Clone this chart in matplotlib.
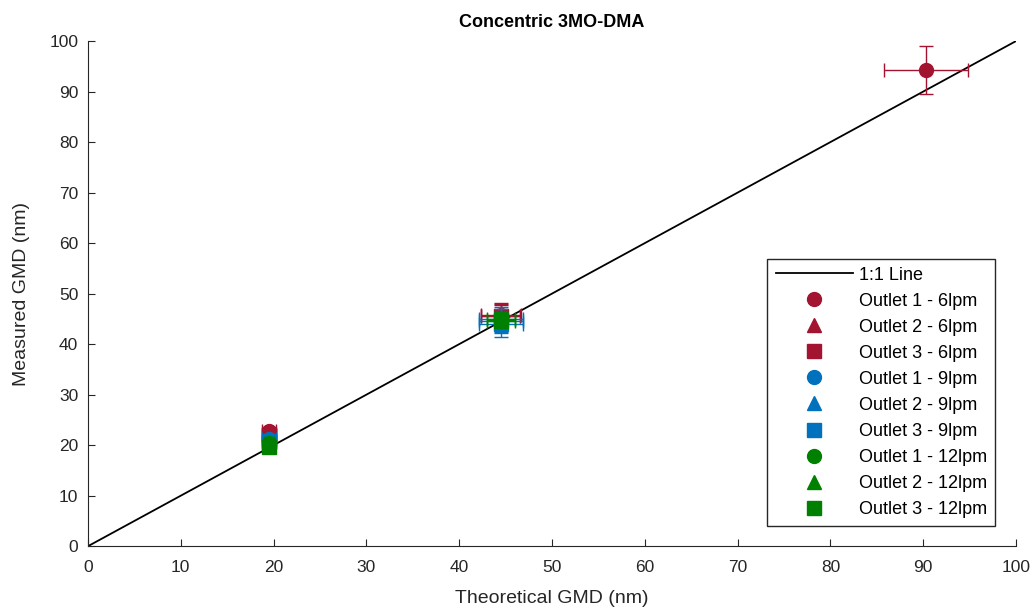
import numpy as np
import matplotlib.pyplot as plt
plt.rcParams["font.family"] = ["Liberation Sans", "DejaVu Sans"]
plt.rcParams["font.size"] = 12

# Series data (theoretical GMD, measured GMD, errors)
labels = ['Outlet 1 - 6lpm', 'Outlet 2 - 6lpm', 'Outlet 3 - 6lpm',
          'Outlet 1 - 9lpm', 'Outlet 2 - 9lpm', 'Outlet 3 - 9lpm',
          'Outlet 1 - 12lpm', 'Outlet 2 - 12lpm', 'Outlet 3 - 12lpm']
theo = [[19.5, 44.5, 90.3], [19.5, 44.5], [19.5, 44.5],
        [19.5, 44.5], [19.5, 44.5], [19.5, 44.5],
        [19.5, 44.5], [19.5, 44.5], [19.5, 44.5]]
meas = [[22.8, 45.8, 94.3], [22.3, 45.6], [22.0, 45.5],
        [21.3, 44.9], [21.0, 44.6], [20.6, 43.9],
        [20.4, 44.9], [20.0, 44.6], [19.6, 44.8]]
xerr = [[0.8, 2.2, 4.5], [0.8, 2.1], [0.8, 2.1],
        [0.8, 2.4], [0.8, 2.4], [0.8, 2.4],
        [0.5, 1.5], [0.5, 1.5], [0.5, 1.5]]
yerr = [[0.8, 2.4, 4.7], [0.8, 2.3], [0.8, 2.3],
        [0.8, 2.4], [0.8, 2.4], [0.8, 2.4],
        [0.5, 1.5], [0.5, 1.5], [0.5, 1.5]]

colors = ['#A2142F'] * 3 + ['#0072BD'] * 3 + ['#008000'] * 3
markers = ['o', '^', 's'] * 3
sizes = [10, 10, 9.5] * 3

fig = plt.figure(figsize=(10.34, 6.13), dpi=100)
ax = fig.add_axes([0.0851, 0.109, 0.8975, 0.824])

ax.plot([0, 100], [0, 100], color='black', lw=1.3, label='1:1 Line')
for i in range(len(labels)):
    ax.errorbar(theo[i], meas[i], xerr=xerr[i], yerr=yerr[i], fmt='none',
                ecolor=colors[i], capsize=5, elinewidth=1, capthick=1)
    ax.plot(theo[i], meas[i], linestyle='none', marker=markers[i],
            color=colors[i], ms=sizes[i], label=labels[i])

ax.set_xlim(0, 100)
ax.set_ylim(0, 100)
ax.set_xticks(np.arange(0, 101, 10))
ax.set_yticks(np.arange(0, 101, 10))
ax.tick_params(direction='in', length=5, top=False, right=False,
               labelsize=12.5, colors='#262626')
ax.tick_params(axis='x', pad=10)
ax.tick_params(axis='y', pad=7)
for s in ['top', 'right']:
    ax.spines[s].set_visible(False)
for s in ['left', 'bottom']:
    ax.spines[s].set_color('#262626')

ax.set_title('Concentric 3MO-DMA', fontsize=13, fontweight='bold', pad=10)
ax.set_xlabel('Theoretical GMD (nm)', fontsize=14, color='#262626', labelpad=11)
ax.set_ylabel('Measured GMD (nm)', fontsize=14, color='#262626', labelpad=14)

leg = ax.legend(loc='lower right', bbox_to_anchor=(0.987, 0.022), fancybox=False,
                edgecolor='#262626', framealpha=1, fontsize=13, handlelength=4.3,
                labelspacing=0.5, borderpad=0.45, handletextpad=0.3)
leg.get_frame().set_linewidth(1)

fig.savefig('out.png', dpi=100)
